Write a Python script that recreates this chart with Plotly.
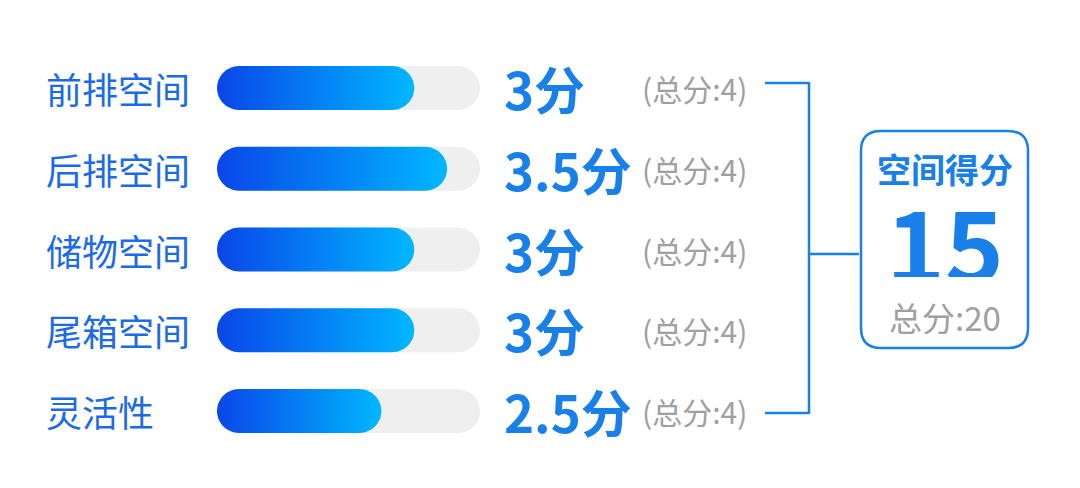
import numpy as np
import plotly.graph_objects as go

# ---- data ----
categories = ["前排空间", "后排空间", "储物空间", "尾箱空间", "灵活性"]
scores = [3, 3.5, 3, 3, 2.5]
max_scores = [4, 4, 4, 4, 4]
score_labels = ["3分", "3.5分", "3分", "3分", "2.5分"]
total_title = "空间得分"
total_score = 15
total_max = 20

W, H = 1080, 488
OFF = 8                        # page body margin compensation
X0PX, X1PX = 217, 480          # x-axis domain in pixels (0 .. 4)
ROW0PX, ROWSTEP = 88, 80.75    # row centres in pixels
BAR_PX = 44

px_per_x = (X1PX - X0PX) / 4.0
ymin = -(ROW0PX - OFF) / ROWSTEP
ymax = (H - (ROW0PX - OFF)) / ROWSTEP


def pxX(p):
    return (p - OFF) / W


def pxY(p):
    return 1 - (p - OFF) / H


def rounded_bar(v0, v1, yc):
    r = BAR_PX / 2
    rx = r / px_per_x
    ry = r / ROWSTEP
    xs, ys = [], []
    a = np.linspace(-np.pi / 2, np.pi / 2, 30)
    xs += list(v1 - rx + rx * np.cos(a))
    ys += list(yc + ry * np.sin(a))
    a2 = np.linspace(np.pi / 2, 3 * np.pi / 2, 30)
    xs += list(v0 + rx + rx * np.cos(a2))
    ys += list(yc + ry * np.sin(a2))
    xs.append(xs[0])
    ys.append(ys[0])
    return xs, ys


fig = go.Figure()

for i, (s, m) in enumerate(zip(scores, max_scores)):
    tx, ty = rounded_bar(0, m, i)
    fig.add_trace(go.Scatter(x=tx, y=ty, mode="lines", fill="toself",
                             fillcolor="#EFEFEF",
                             line=dict(width=0, color="rgba(0,0,0,0)"),
                             hoverinfo="skip", showlegend=False))
    fx, fy = rounded_bar(0, s, i)
    fig.add_trace(go.Scatter(x=fx, y=fy, mode="lines", fill="toself",
                             fillgradient=dict(type="horizontal",
                                               colorscale=[[0, "#0A46E8"], [1, "#00B7FF"]]),
                             line=dict(width=0, color="rgba(0,0,0,0)"),
                             hoverinfo="skip", showlegend=False))

FONT = "Noto Sans CJK SC"
BLUE = "#1880E8"
LBLUE = "#1C6AE6"
GRAY = "#A0A0A0"

ann = []
for i, c in enumerate(categories):
    ann.append(dict(x=pxX(44), xref="paper", y=i, yref="y", xanchor="left", yanchor="middle",
                    text=c, showarrow=False, font=dict(family=FONT, size=36, color=LBLUE)))
    ann.append(dict(x=pxX(502), xref="paper", y=i, yref="y", xanchor="left", yanchor="middle",
                    text="<b>%s</b>" % score_labels[i], showarrow=False,
                    font=dict(family=FONT, size=51, color=BLUE)))
    ann.append(dict(x=pxX(749), xref="paper", y=i, yref="y", xanchor="right", yanchor="middle",
                    text="(总分:%g)" % max_scores[i], showarrow=False,
                    font=dict(family=FONT, size=30, color=GRAY)))

cx = pxX(945)
ann.append(dict(x=cx, xref="paper", y=pxY(168), yref="paper", xanchor="center", yanchor="middle",
                text="<b>%s</b>" % total_title, showarrow=False, height=38, valign="middle",
                font=dict(family=FONT, size=34, color=BLUE)))
ann.append(dict(x=cx, xref="paper", y=pxY(240), yref="paper", xanchor="center", yanchor="middle",
                text="<b>%d</b>" % total_score, showarrow=False, height=74, valign="middle",
                font=dict(family=FONT, size=100, color=BLUE)))
ann.append(dict(x=cx, xref="paper", y=pxY(317), yref="paper", xanchor="center", yanchor="middle",
                text="总分:%d" % total_max, showarrow=False, height=34, valign="middle",
                font=dict(family=FONT, size=33, color=GRAY)))

shapes = []
lc = dict(color=BLUE, width=2.5)
shapes.append(dict(type="line", xref="paper", yref="paper", x0=pxX(765), x1=pxX(809),
                   y0=pxY(83), y1=pxY(83), line=lc))
shapes.append(dict(type="line", xref="paper", yref="paper", x0=pxX(765), x1=pxX(809),
                   y0=pxY(413), y1=pxY(413), line=lc))
shapes.append(dict(type="line", xref="paper", yref="paper", x0=pxX(809), x1=pxX(809),
                   y0=pxY(82), y1=pxY(414), line=lc))
shapes.append(dict(type="line", xref="paper", yref="paper", x0=pxX(809), x1=pxX(859),
                   y0=pxY(254), y1=pxY(254), line=lc))
bx0, bx1, by0, by1, r = 861, 1028, 131, 348, 20
path = (f"M {pxX(bx0 + r)},{pxY(by0)} L {pxX(bx1 - r)},{pxY(by0)} "
        f"Q {pxX(bx1)},{pxY(by0)} {pxX(bx1)},{pxY(by0 + r)} "
        f"L {pxX(bx1)},{pxY(by1 - r)} Q {pxX(bx1)},{pxY(by1)} {pxX(bx1 - r)},{pxY(by1)} "
        f"L {pxX(bx0 + r)},{pxY(by1)} Q {pxX(bx0)},{pxY(by1)} {pxX(bx0)},{pxY(by1 - r)} "
        f"L {pxX(bx0)},{pxY(by0 + r)} Q {pxX(bx0)},{pxY(by0)} {pxX(bx0 + r)},{pxY(by0)} Z")
shapes.append(dict(type="path", xref="paper", yref="paper", path=path,
                   line=dict(color=BLUE, width=2.5)))

fig.update_layout(
    width=W, height=H,
    margin=dict(l=0, r=0, t=0, b=0),
    paper_bgcolor="white", plot_bgcolor="rgba(0,0,0,0)",
    xaxis=dict(domain=[pxX(X0PX), pxX(X1PX)], range=[0, 4], visible=False, fixedrange=True),
    yaxis=dict(domain=[0, 1], range=[ymax, ymin], visible=False, fixedrange=True),
    annotations=ann, shapes=shapes, showlegend=False,
)

fig.write_html("out.html")
